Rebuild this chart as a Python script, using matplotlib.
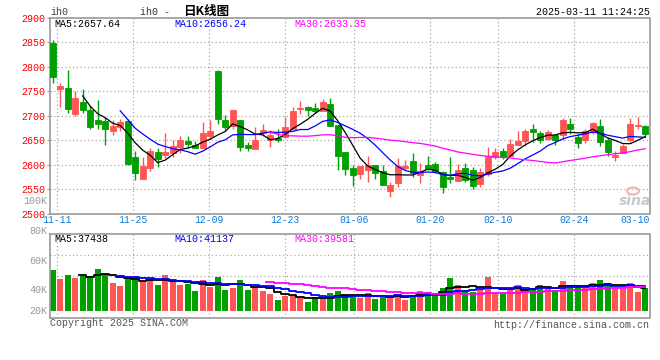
import matplotlib
matplotlib.use('Agg')
import matplotlib.pyplot as plt
from matplotlib.patches import Ellipse
import numpy as np
import pandas as pd

# ---- data (ih0, 2024-11-11 .. 2025-03-11) ----
date_labels = ['11-11', '11-25', '12-09', '12-23', '01-06', '01-20', '02-10', '02-24', '03-10']
date_index = [0, 10, 20, 30, 39, 49, 58, 68, 78]

opens = [2848, 2755, 2757, 2703, 2728, 2712, 2691, 2690, 2669, 2678,
         2690, 2616, 2571, 2594, 2625, 2619, 2624, 2637, 2648, 2640,
         2635, 2658, 2791, 2691, 2679, 2691, 2640, 2631, 2664, 2650,
         2655, 2656, 2672, 2713, 2718, 2716, 2710, 2724, 2681, 2626,
         2593, 2581, 2588, 2600, 2586, 2547, 2562, 2593, 2607, 2578,
         2599, 2601, 2584, 2575, 2567, 2594, 2589, 2561, 2581, 2616,
         2627, 2618, 2641, 2649, 2673, 2664, 2653, 2660, 2661, 2684,
         2656, 2650, 2667, 2679, 2650, 2616, 2624, 2650, 2679, 2680]
highs = [2855, 2766, 2793, 2750, 2755, 2721, 2733, 2697, 2691, 2693,
         2693, 2628, 2616, 2633, 2633, 2664, 2650, 2658, 2658, 2648,
         2688, 2691, 2793, 2701, 2714, 2692, 2646, 2676, 2683, 2671,
         2673, 2697, 2717, 2731, 2720, 2727, 2735, 2736, 2681, 2626,
         2600, 2597, 2618, 2600, 2600, 2565, 2613, 2609, 2623, 2603,
         2618, 2605, 2586, 2616, 2601, 2603, 2596, 2593, 2637, 2635,
         2633, 2653, 2669, 2672, 2683, 2669, 2671, 2663, 2695, 2695,
         2663, 2673, 2687, 2693, 2656, 2627, 2643, 2695, 2697, 2682]
lows = [2766, 2718, 2706, 2699, 2705, 2673, 2672, 2641, 2661, 2668,
        2600, 2568, 2571, 2586, 2596, 2614, 2615, 2623, 2633, 2633,
        2635, 2652, 2684, 2671, 2672, 2628, 2628, 2631, 2658, 2637,
        2646, 2656, 2672, 2703, 2699, 2706, 2709, 2680, 2589, 2578,
        2557, 2571, 2565, 2571, 2559, 2534, 2555, 2589, 2574, 2563,
        2589, 2583, 2541, 2563, 2567, 2564, 2551, 2555, 2577, 2611,
        2612, 2618, 2640, 2639, 2646, 2645, 2650, 2641, 2650, 2663,
        2635, 2645, 2662, 2639, 2618, 2608, 2624, 2647, 2673, 2658]
closes = [2780, 2761, 2714, 2736, 2712, 2676, 2683, 2673, 2680, 2687,
          2601, 2583, 2597, 2628, 2612, 2626, 2639, 2650, 2642, 2635,
          2664, 2669, 2693, 2678, 2712, 2637, 2635, 2650, 2671, 2661,
          2650, 2677, 2709, 2716, 2712, 2710, 2729, 2680, 2618, 2592,
          2579, 2597, 2600, 2582, 2559, 2558, 2598, 2597, 2582, 2586,
          2591, 2586, 2555, 2570, 2590, 2568, 2557, 2584, 2618, 2626,
          2616, 2643, 2648, 2669, 2667, 2650, 2667, 2650, 2691, 2672,
          2645, 2669, 2686, 2646, 2626, 2620, 2638, 2684, 2681, 2663]
volumes = [68700, 53700, 59800, 55400, 58200, 58200, 70400, 62000, 47100, 41600,
           56500, 57100, 47600, 51500, 43200, 59800, 49900, 43200, 44900, 33200,
           51500, 39300, 56500, 34900, 38800, 51500, 34900, 39300, 33800, 28300,
           18300, 24900, 25500, 21100, 15500, 23800, 19900, 29900, 33200, 26600,
           25500, 21100, 29900, 19900, 24900, 23800, 28300, 18300, 26600, 33200,
           32100, 28300, 38800, 55400, 43200, 34900, 32100, 34900, 57100, 29900,
           29400, 34900, 43200, 36000, 38200, 43200, 38800, 34900, 49900, 43200,
           39900, 37700, 46500, 51500, 44900, 36000, 36000, 46500, 32100, 37700]

price_ticks = [2500, 2550, 2600, 2650, 2700, 2750, 2800, 2850, 2900]
vol_tick_labels = ['100K', '80K', '60K', '40K', '20K']
ma_price_text = ['MA5:2657.64', 'MA10:2656.24', 'MA30:2633.35']
ma_vol_text = ['MA5:37438', 'MA10:41137', 'MA30:39581']

# ---- style ----
RED = '#ff5555'
GREEN = '#00a000'
GRID = '#aaaaaa'
EDGE = '#999999'
MA_COLORS = ['black', '#0000ff', '#ff00ff']
MONO = 'Liberation Mono'
FS = 7.2
plt.rcParams['font.family'] = MONO

W, H = 660, 360


def fx(x):
    return x / W


def fy(y):
    return 1 - y / H


fig = plt.figure(figsize=(W / 100, H / 100), dpi=100)
fig.patch.set_facecolor('white')

ax = fig.add_axes([fx(50.5), fy(213.5), 599 / W, 195.5 / H])
axv = fig.add_axes([fx(50.5), fy(318), 599 / W, 84 / H], sharex=ax)

x = np.arange(len(closes))
o = np.array(opens)
c = np.array(closes)
up = c >= o
colors = np.where(up, RED, GREEN)

# sina spaces its date grid a little wider than the candles
grid_x = [0.613 + 1.0133 * i for i in date_index]

for a in (ax, axv):
    a.set_xlim(-0.29, 79.57)
    for s in a.spines.values():
        s.set_color(EDGE)
        s.set_linewidth(1.2)
    a.set_xticks([])
    for g in grid_x:
        a.axvline(g, color=GRID, lw=0.9, linestyle=(0, (1, 2)), zorder=0)

# ---- price panel ----
ax.set_ylim(2500, 2900)
ax.set_yticks(price_ticks)
ax.set_yticklabels([str(t) for t in price_ticks], color='#ff0000', fontsize=FS)
ax.tick_params(axis='y', length=2, color=EDGE, pad=1.5)
for t in price_ticks[1:-1]:
    ax.axhline(t, color=GRID, lw=0.9, linestyle=(0, (1, 2)), zorder=0)

ax.vlines(x, lows, highs, colors=colors, lw=1, zorder=2)
ax.bar(x, np.abs(c - o), bottom=np.minimum(o, c), width=0.8, color=colors,
       edgecolor=colors, linewidth=0.6, zorder=3)

cs = pd.Series(closes)
for n, col in zip((5, 10, 30), MA_COLORS):
    ax.plot(x, cs.rolling(n).mean(), color=col, lw=0.9, zorder=4)

for txt, col, xp in zip(ma_price_text, MA_COLORS, (54, 174, 294)):
    fig.text(fx(xp), fy(24), txt, color=col, fontsize=FS, va='center', ha='left')

trans = ax.get_xaxis_transform()
for lab, g in zip(date_labels[:-1], grid_x[:-1]):
    ax.text(g, -0.033, lab, transform=trans, ha='center', va='center',
            color='#0a7ad8', fontsize=7.0)
ax.text(1.0, -0.033, date_labels[-1], transform=ax.transAxes, ha='right',
        va='center', color='#0a7ad8', fontsize=7.0)

# ---- volume panel ----
vmin, vmax = -11640, 128050
axv.set_ylim(vmin, vmax)
axv.set_yticks([])
for frac in (0.25, 0.5, 0.75):
    axv.axhline(vmin + frac * (vmax - vmin), color=GRID, lw=0.9,
                linestyle=(0, (1, 2)), zorder=0)
axv.bar(x, volumes, width=0.8, color=colors, zorder=2)
vs = pd.Series(volumes)
for n, col in zip((5, 10, 30), MA_COLORS):
    axv.plot(x, vs.rolling(n).mean(), color=col, lw=1.3,
             drawstyle='steps-mid', zorder=3)

for txt, col, xp in zip(ma_vol_text, MA_COLORS, (54, 174, 294)):
    fig.text(fx(xp), fy(238.5), txt, color=col, fontsize=FS, va='center', ha='left')

for lab, yp in zip(vol_tick_labels, (200.7, 230.7, 261, 290, 310.7)):
    fig.text(fx(47), fy(yp), lab, color='#999999', fontsize=FS, ha='right', va='center')

# ---- header / footer ----
fig.text(fx(50.5), fy(12), 'ih0', color='#444444', fontsize=FS, va='center')
fig.text(fx(140), fy(12), 'ih0 -', color='#333333', fontsize=FS, va='center')
fig.text(fx(183), fy(12), '日K线图', family=['Noto Sans CJK SC', 'DejaVu Sans'],
         fontweight='bold', fontsize=9, va='center')
fig.text(fx(649.5), fy(12), '2025-03-11 11:24:25', color='black', fontsize=FS,
         ha='right', va='center')
fig.text(fx(50), fy(323.5), 'Copyright 2025 SINA.COM', color='#555555',
         fontsize=FS, va='center')
fig.text(fx(649.5), fy(325), 'http://finance.sina.com.cn', color='#555555',
         fontsize=FS, ha='right', va='center')

# watermark
fig.add_artist(Ellipse((fx(633), fy(191)), 12 / W, 7 / H, transform=fig.transFigure,
                       fill=False, edgecolor='#f2b4b4', lw=1.5))
fig.text(fx(635), fy(201), 'sina', color='#c8c8c8', fontsize=10, fontweight='bold',
         fontstyle='italic', family='DejaVu Sans', ha='center', va='center')

fig.savefig('out.png', dpi=100, facecolor='white')
